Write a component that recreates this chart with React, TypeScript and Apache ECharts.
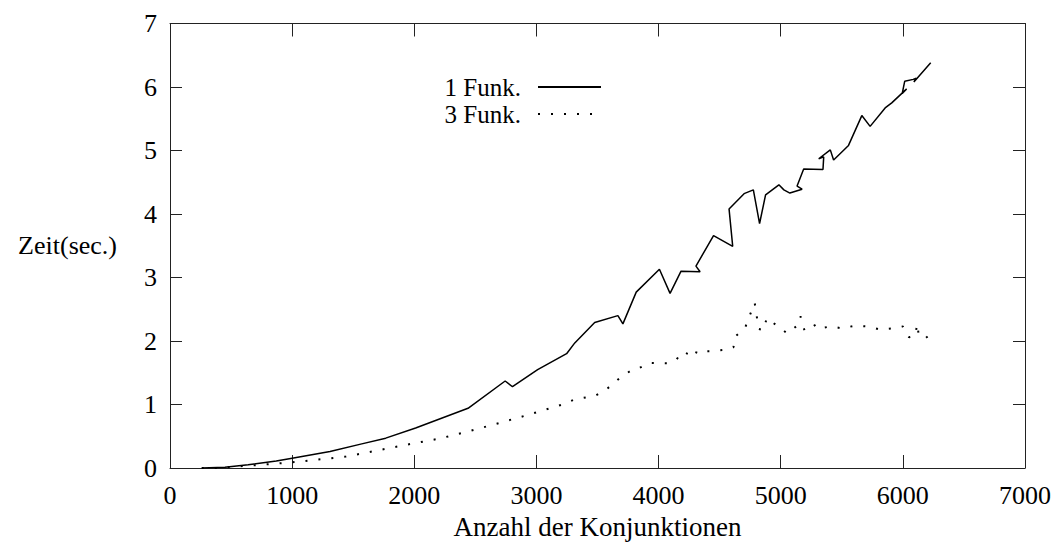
import React, { useEffect, useRef } from "react";
import * as echarts from "echarts";

// Anzahl der Konjunktionen (x) and Zeit in sec. (y)
const funk1Konj = [260, 450, 640, 870, 1000, 1310, 1570, 1766, 2011, 2440, 2744, 2804, 3010, 3247, 3314, 3477, 3667, 3708, 3817, 4007, 4094, 4184, 4340, 4306, 4450, 4607, 4577, 4700, 4776, 4827, 4876, 4985, 5026, 5075, 5175, 5134, 5188, 5346, 5352, 5311, 5406, 5433, 5555, 5664, 5732, 5855, 5909, 6031, 5995, 6015, 6085, 6110, 6090, 6228];
const funk1Zeit = [0.0, 0.01, 0.05, 0.11, 0.155, 0.26, 0.38, 0.47, 0.63, 0.94, 1.37, 1.28, 1.55, 1.8, 1.97, 2.29, 2.4, 2.27, 2.77, 3.13, 2.75, 3.1, 3.09, 3.18, 3.66, 3.49, 4.08, 4.32, 4.38, 3.85, 4.3, 4.46, 4.38, 4.33, 4.39, 4.44, 4.71, 4.7, 4.9, 4.87, 5.01, 4.85, 5.08, 5.55, 5.38, 5.67, 5.75, 5.97, 5.9, 6.09, 6.12, 6.14, 6.08, 6.38];

const funk3Konj = [260, 370, 520, 740, 1000, 1200, 1440, 1680, 2000, 2200, 2450, 2660, 2920, 3214, 3314, 3485, 3580, 3703, 3785, 3831, 3928, 4070, 4143, 4195, 4298, 4312, 4418, 4526, 4613, 4627, 4707, 4746, 4787, 4803, 4819, 4860, 4885, 4971, 5053, 5134, 5162, 5175, 5197, 5292, 5325, 5410, 5500, 5606, 5712, 5814, 5915, 6001, 6050, 6100, 6118, 6130, 6180, 6235];
const funk3Zeit = [0.0, 0.0, 0.02, 0.05, 0.09, 0.13, 0.18, 0.27, 0.39, 0.46, 0.58, 0.69, 0.83, 1.0, 1.08, 1.14, 1.25, 1.45, 1.545, 1.565, 1.655, 1.65, 1.7, 1.83, 1.755, 1.84, 1.84, 1.86, 1.9, 2.07, 2.2, 2.4, 2.6, 2.4, 2.19, 2.17, 2.36, 2.24, 2.12, 2.24, 2.39, 2.27, 2.16, 2.26, 2.2, 2.23, 2.2, 2.24, 2.23, 2.18, 2.2, 2.23, 2.06, 2.08, 2.27, 2.09, 2.1, 1.97];

const seriesNames = ["1 Funk.", "3 Funk."];
const xTitle = "Anzahl der Konjunktionen";
const yTitle = "Zeit(sec.)";

const FONT = "Liberation Serif";
const INK = "#000";
const FRAME = "#222";

function zip(xs: number[], ys: number[]) {
  return xs.map((x, i) => [x, ys[i]]);
}

export default function App() {
  const ref = useRef<HTMLDivElement>(null);
  useEffect(() => {
    if (!ref.current) return;
    const chart = echarts.init(ref.current, null, { renderer: "svg" });
    const axisLine = { show: true, onZero: false, lineStyle: { color: FRAME, width: 1 } };
    const axisTickX = { show: true, inside: true, length: 13, lineStyle: { color: FRAME, width: 1 } };
    const axisTickY = { show: true, inside: true, length: 12, lineStyle: { color: FRAME, width: 1 } };
    const label = { fontFamily: FONT, fontSize: 26, color: INK };
    chart.setOption({
      animation: false,
      backgroundColor: "#fff",
      grid: { left: 170, right: 26, top: 23.5, bottom: 75.5, containLabel: false },
      legend: {
        data: seriesNames,
        orient: "vertical",
        align: "right",
        right: 447,
        top: 68.5,
        itemWidth: 63,
        itemHeight: 14,
        itemGap: 0,
        itemStyle: { opacity: 0, color: "rgba(0,0,0,0)", borderWidth: 0 },
        textStyle: { fontFamily: FONT, fontSize: 25, color: INK, lineHeight: 27, padding: [0, 12, 0, 0] },
      },
      xAxis: [
        {
          type: "value",
          position: "bottom",
          min: 0,
          max: 7000,
          interval: 1000,
          axisLine,
          axisTick: axisTickX,
          splitLine: { show: false },
          axisLabel: { ...label, margin: 14, formatter: (v: number) => String(v) },
          name: xTitle,
          nameLocation: "middle",
          nameGap: 45,
          nameTextStyle: { fontFamily: FONT, fontSize: 27, color: INK },
        },
        {
          type: "value",
          position: "top",
          min: 0,
          max: 7000,
          interval: 1000,
          axisLine,
          axisTick: axisTickX,
          splitLine: { show: false },
          axisLabel: { show: false },
        },
      ],
      yAxis: [
        {
          type: "value",
          position: "left",
          min: 0,
          max: 7,
          interval: 1,
          axisLine,
          axisTick: axisTickY,
          splitLine: { show: false },
          axisLabel: { ...label, margin: 13, formatter: (v: number) => String(v) },
          name: yTitle,
          nameLocation: "middle",
          nameRotate: 0,
          nameGap: 53,
          nameTextStyle: { fontFamily: FONT, fontSize: 26, color: INK },
        },
        {
          type: "value",
          position: "right",
          min: 0,
          max: 7,
          interval: 1,
          axisLine,
          axisTick: axisTickY,
          splitLine: { show: false },
          axisLabel: { show: false },
        },
      ],
      series: [
        {
          name: seriesNames[0],
          type: "line",
          xAxisIndex: 0,
          yAxisIndex: 0,
          data: zip(funk1Konj, funk1Zeit),
          symbol: "none",
          showSymbol: false,
          lineStyle: { color: INK, width: 1.5, type: "solid" },
          itemStyle: { color: INK },
        },
        {
          name: seriesNames[1],
          type: "line",
          xAxisIndex: 0,
          yAxisIndex: 0,
          data: zip(funk3Konj, funk3Zeit),
          symbol: "none",
          showSymbol: false,
          lineStyle: { color: INK, width: 2, type: [2, 11], cap: "butt" },
          itemStyle: { color: INK },
        },
      ],
    });
    return () => chart.dispose();
  }, []);
  return (
    <div
      ref={ref}
      style={{ position: "fixed", left: 0, top: 0, width: 1054, height: 545, background: "#fff" }}
    />
  );
}
